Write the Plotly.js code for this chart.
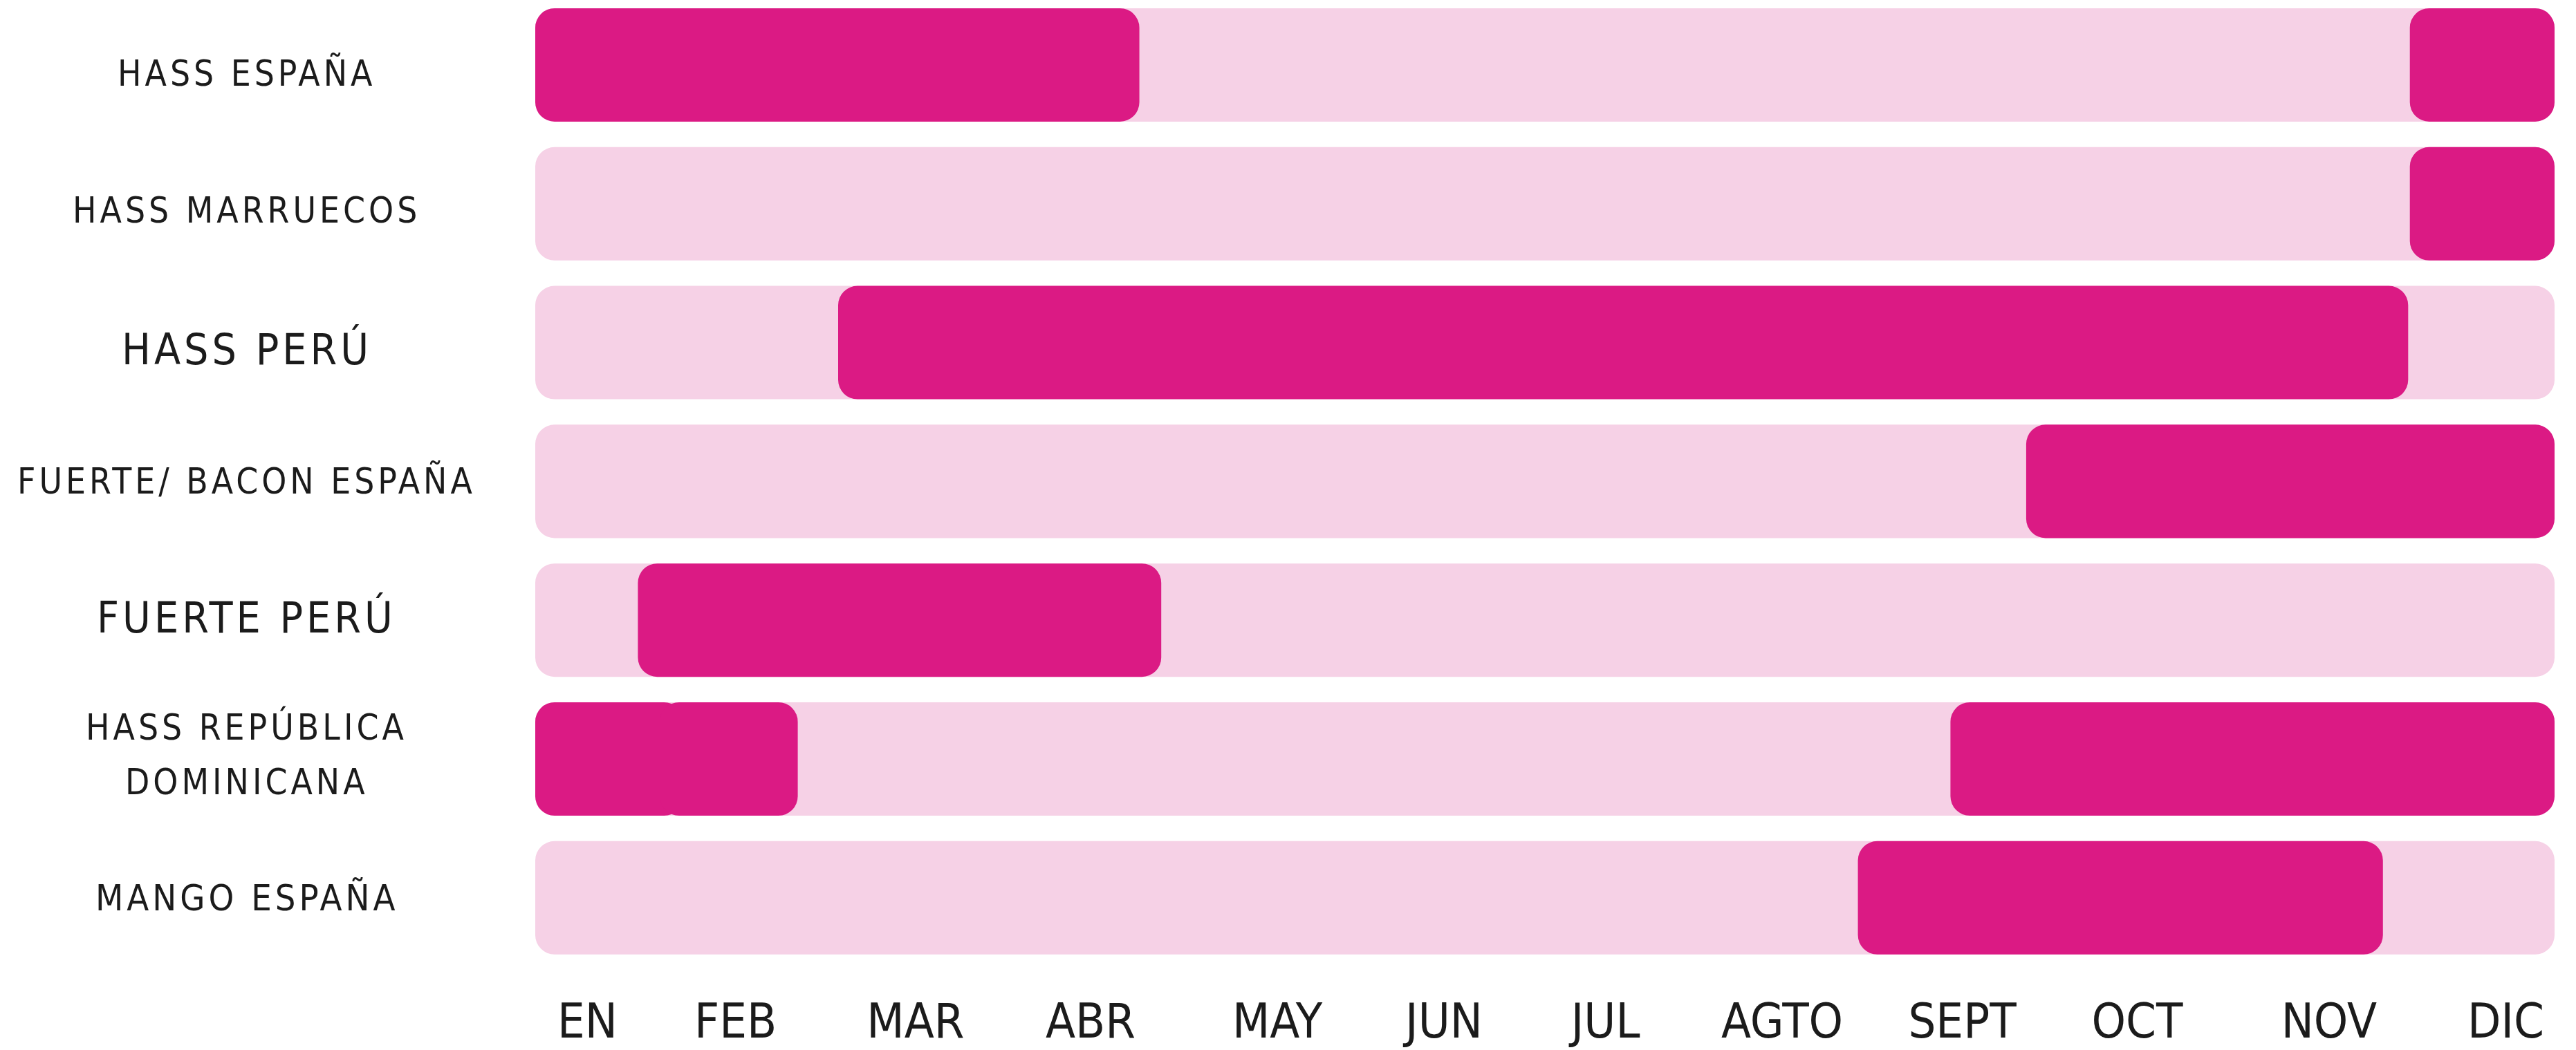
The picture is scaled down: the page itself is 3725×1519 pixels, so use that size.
<!DOCTYPE html>
<html>
<head>
<meta charset="utf-8">
<script src="https://cdn.plot.ly/plotly-3.0.1.min.js"></script>
<style>
  html, body { margin: 0; padding: 0; background: #ffffff; }
  #chart { width: 3725px; height: 1519px; }
  .annotation-text { letter-spacing: 5px; }
</style>
</head>
<body>
<div id="chart"></div>
<script>
// ---- data ----
const categories = [
  "HASS ESPAÑA",
  "HASS MARRUECOS",
  "HASS PERÚ",
  "FUERTE/ BACON ESPAÑA",
  "FUERTE PERÚ",
  "HASS REPÚBLICA<br>DOMINICANA",
  "MANGO ESPAÑA"
];
const months = ["EN", "FEB", "MAR", "ABR", "MAY", "JUN", "JUL", "AGTO", "SEPT", "OCT", "NOV", "DIC"];
const monthTickPos = [0.31, 1.19, 2.26, 3.30, 4.41, 5.40, 6.36, 7.41, 8.48, 9.52, 10.66, 11.71];
const yearStart = 0;
const yearEnd = 12;

// season segments (months from start of January)
const segCategory = [
  "HASS ESPAÑA", "HASS ESPAÑA",
  "HASS MARRUECOS",
  "HASS PERÚ",
  "FUERTE/ BACON ESPAÑA",
  "FUERTE PERÚ",
  "HASS REPÚBLICA<br>DOMINICANA", "HASS REPÚBLICA<br>DOMINICANA", "HASS REPÚBLICA<br>DOMINICANA",
  "MANGO ESPAÑA"
];
const segStart = [0.00, 11.14, 11.14, 1.80, 8.86, 0.61, 0.00, 0.74, 8.41, 7.86];
const segEnd   = [3.59, 12.00, 12.00, 11.13, 12.00, 3.72, 0.88, 1.56, 12.00, 10.98];

// ---- styles / layout constants ----
const W = 3725, H = 1519;
const ML = 774, MR = 31, MT = 0, MB = 119;
const darkPink = "#DB1A84";
const lightPink = "#F6D1E6";
const textColor = "#1b1b1b";
const fontFam = "'DejaVu Sans Condensed', 'Liberation Sans Narrow', sans-serif";
const labelSize = {
  "HASS ESPAÑA": 51,
  "HASS MARRUECOS": 51,
  "HASS PERÚ": 62,
  "FUERTE/ BACON ESPAÑA": 51,
  "FUERTE PERÚ": 62,
  "HASS REPÚBLICA<br>DOMINICANA": 51,
  "MANGO ESPAÑA": 52
};
const labelShift = {
  "HASS ESPAÑA": -12,
  "HASS MARRUECOS": -10,
  "HASS PERÚ": -10,
  "FUERTE/ BACON ESPAÑA": 0,
  "FUERTE PERÚ": 4,
  "HASS REPÚBLICA<br>DOMINICANA": 6,
  "MANGO ESPAÑA": 0
};
const labelCenterPx = 357;

const barCommon = {
  type: "bar",
  orientation: "h",
  width: 0.817,
  hoverinfo: "skip",
  showlegend: false
};

const traces = [
  Object.assign({}, barCommon, {
    y: categories,
    base: categories.map(() => yearStart),
    x: categories.map(() => yearEnd - yearStart),
    marker: { color: lightPink, cornerradius: 28, line: { width: 0 } }
  }),
  Object.assign({}, barCommon, {
    y: segCategory,
    base: segStart,
    x: segEnd.map((e, i) => e - segStart[i]),
    marker: { color: darkPink, cornerradius: 28, line: { width: 0 } }
  })
];

const plotW = W - ML - MR;
const labelX = (labelCenterPx - ML) / plotW;

const annotations = [];
categories.forEach(function (c) {
  const lines = c.split("<br>");
  const n = lines.length;
  const lineGap = 80;
  lines.forEach(function (ln, k) {
    annotations.push({
      xref: "paper", yref: "y",
      x: labelX, y: c,
      text: ln,
      showarrow: false,
      xanchor: "center", yanchor: "middle",
      yshift: ((n - 1) / 2 - k) * lineGap + labelShift[c],
      font: { family: fontFam, size: labelSize[c], color: textColor }
    });
  });
});

const layout = {
  width: W, height: H,
  margin: { l: ML, r: MR, t: MT, b: MB, pad: 0 },
  paper_bgcolor: "#ffffff",
  plot_bgcolor: "#ffffff",
  barmode: "overlay",
  xaxis: {
    range: [yearStart, yearEnd],
    showgrid: false, zeroline: false, showline: false,
    tickmode: "array",
    tickvals: monthTickPos,
    ticktext: months,
    ticks: "",
    ticklabelstandoff: 30,
    tickfont: { family: fontFam, size: 70, color: textColor },
    fixedrange: true
  },
  yaxis: {
    type: "category",
    categoryorder: "array",
    categoryarray: categories,
    range: [6.504, -0.468],
    showgrid: false, zeroline: false, showline: false,
    showticklabels: false,
    ticks: "",
    fixedrange: true
  },
  annotations: annotations
};

Plotly.newPlot("chart", traces, layout, { staticPlot: true, displayModeBar: false });
</script>
</body>
</html>
